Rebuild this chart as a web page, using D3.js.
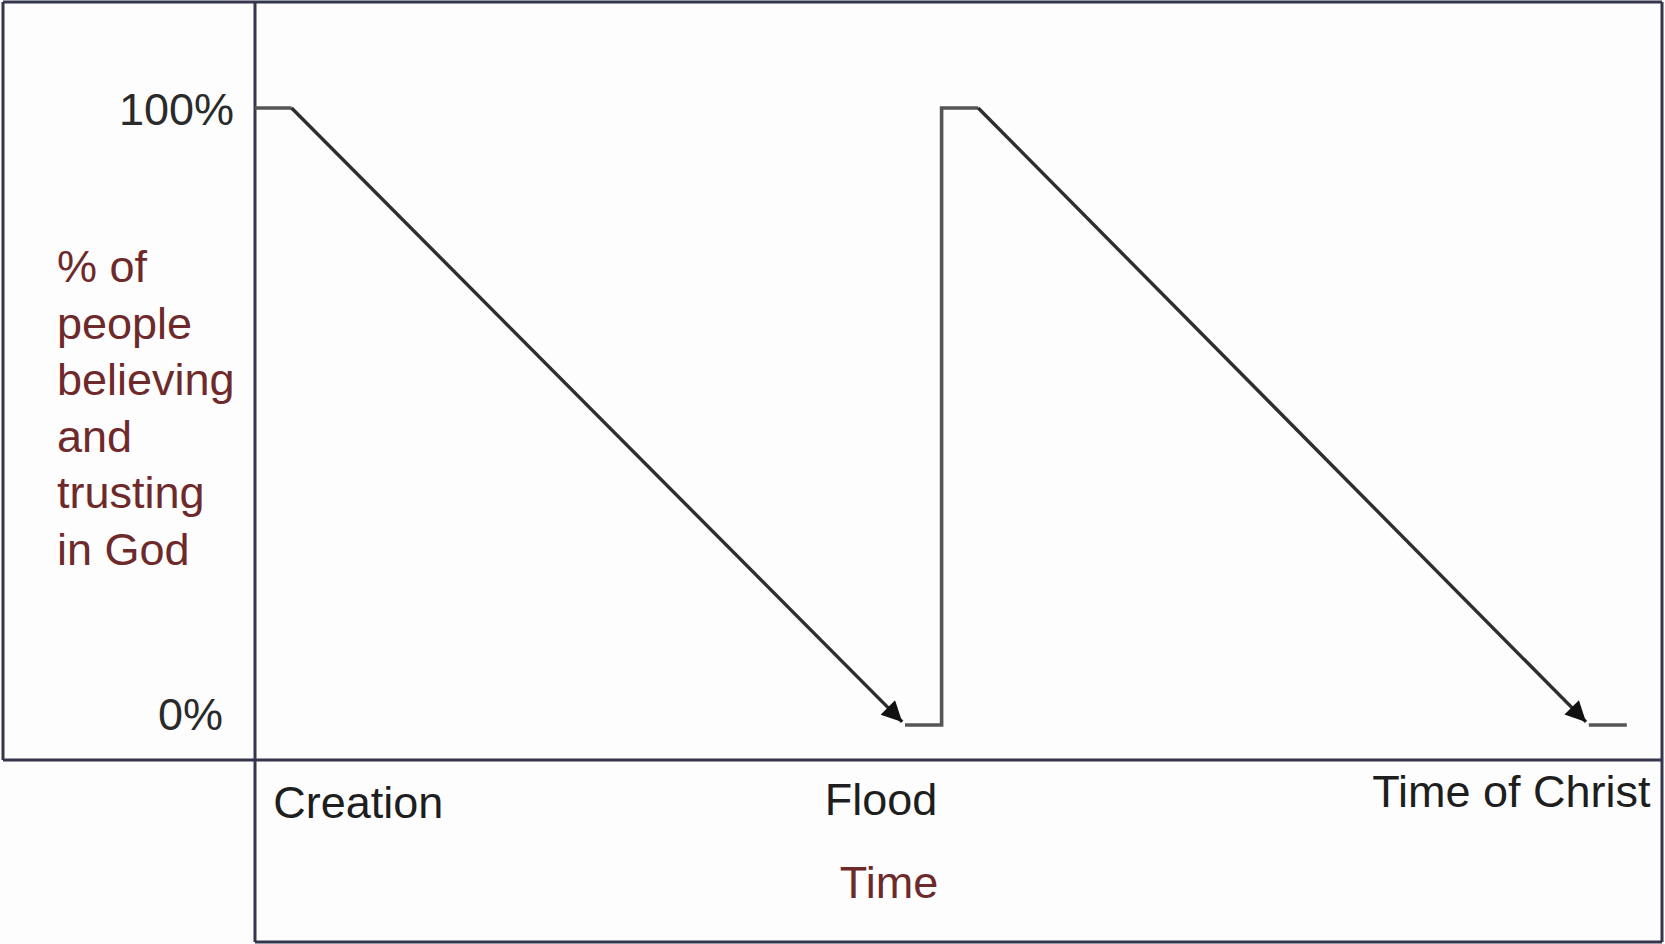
<!DOCTYPE html>
<html>
<head>
<meta charset="utf-8">
<script src="https://cdn.jsdelivr.net/npm/d3@7"></script>
<style>
  html, body { margin: 0; padding: 0; background: #fff; }
  svg { display: block; font-family: "Liberation Sans", Arial, sans-serif; }
</style>
</head>
<body>
<div id="chart"></div>
<script>
// time runs 0..100 from Creation to the end of the frame, belief is 0..100 %
const flatSegments = [
    [{ t: 0, v: 100 }, { t: 2.6, v: 100 }],
    [{ t: 46.2, v: 0 }, { t: 48.8, v: 0 }, { t: 48.8, v: 100 }, { t: 51.4, v: 100 }],
    [{ t: 94.8, v: 0 }, { t: 97.5, v: 0 }]
];
const declineSegments = [
    [{ t: 2.6, v: 100 }, { t: 46.0, v: 0.5 }],
    [{ t: 51.4, v: 100 }, { t: 94.6, v: 0.5 }]
];
const yTicks = [0, 100];
const yTickLabels = ['0%', '100%'];
const eventLabels = ['Creation', 'Flood', 'Time of Christ'];
const eventLabelPos = [1.3, 40.5, 79.4];
const yTitleLines = ['% of', 'people', 'believing', 'and', 'trusting', 'in God'];

const W = 1665, H = 944;
const frame = { left: 3, top: 2, right: 1662, bottom: 942, axisX: 255, axisY: 760 };
const frameColor = '#35354d';
const titleColor = '#6e2a2a';
const fontSize = 45;

const svg = d3.select('#chart').append('svg')
    .attr('width', W).attr('height', H);

svg.append('rect').attr('width', W).attr('height', H).attr('fill', '#fdfdfe');

const xScale = d3.scaleLinear().domain([0, 100]).range([frame.axisX, frame.right]);
const yScale = d3.scaleLinear().domain([0, 100]).range([725, 108]);

// frame lines
const frameLines = [
    [frame.left, frame.top, frame.right, frame.top],
    [frame.left, frame.top, frame.left, frame.axisY],
    [frame.left, frame.axisY, frame.right, frame.axisY],
    [frame.axisX, frame.top, frame.axisX, frame.bottom],
    [frame.axisX, frame.bottom, frame.right, frame.bottom],
    [frame.right, frame.top, frame.right, frame.bottom]
];
svg.selectAll('line.frame').data(frameLines).join('line')
    .attr('class', 'frame')
    .attr('x1', d => d[0]).attr('y1', d => d[1])
    .attr('x2', d => d[2]).attr('y2', d => d[3])
    .attr('stroke', frameColor).attr('stroke-width', 3);

// y ticks
const yAxis = svg.append('g')
    .attr('transform', `translate(${frame.axisX},0)`)
    .call(d3.axisLeft(yScale).tickValues(yTicks).tickSize(0).tickPadding(21)
        .tickFormat((d, i) => yTickLabels[i]));
yAxis.select('.domain').remove();
yAxis.selectAll('text')
    .attr('font-family', '"Liberation Sans", Arial, sans-serif')
    .attr('font-size', fontSize)
    .attr('fill', '#2a2a2a')
    .attr('dy', d => d === 0 ? '0.1em' : '0.36em')
    .attr('dx', d => d === 0 ? -11 : 0);

// y title
svg.append('text')
    .attr('x', 57).attr('y', 282)
    .attr('font-size', fontSize).attr('fill', titleColor)
    .selectAll('tspan').data(yTitleLines).join('tspan')
    .attr('x', 57).attr('dy', (d, i) => i === 0 ? 0 : 56.6)
    .text(d => d);

// event labels
svg.selectAll('text.event').data(eventLabels).join('text')
    .attr('class', 'event')
    .attr('x', (d, i) => xScale(eventLabelPos[i]))
    .attr('y', (d, i) => [818, 815, 807][i])
    .attr('font-size', fontSize).attr('fill', '#1e1e1e')
    .text(d => d);

// x title
svg.append('text')
    .attr('x', 889).attr('y', 898)
    .attr('text-anchor', 'middle')
    .attr('font-size', fontSize).attr('fill', titleColor)
    .text('Time');

// arrow marker
svg.append('defs').append('marker')
    .attr('id', 'arrow')
    .attr('viewBox', '0 0 10 10')
    .attr('refX', 10).attr('refY', 5)
    .attr('markerWidth', 7).attr('markerHeight', 6)
    .attr('markerUnits', 'strokeWidth')
    .attr('orient', 'auto')
    .append('path').attr('d', 'M0,0 L10,5 L0,10 Z').attr('fill', '#111');

const line = d3.line().x(d => xScale(d.t)).y(d => yScale(d.v));

svg.selectAll('path.flat').data(flatSegments).join('path')
    .attr('class', 'flat')
    .attr('d', line)
    .attr('fill', 'none')
    .attr('stroke', '#555').attr('stroke-width', 3.6);

svg.selectAll('path.decline').data(declineSegments).join('path')
    .attr('class', 'decline')
    .attr('d', line)
    .attr('fill', 'none')
    .attr('stroke', '#2e2e2e').attr('stroke-width', 3.4)
    .attr('marker-end', 'url(#arrow)');
</script>
</body>
</html>
